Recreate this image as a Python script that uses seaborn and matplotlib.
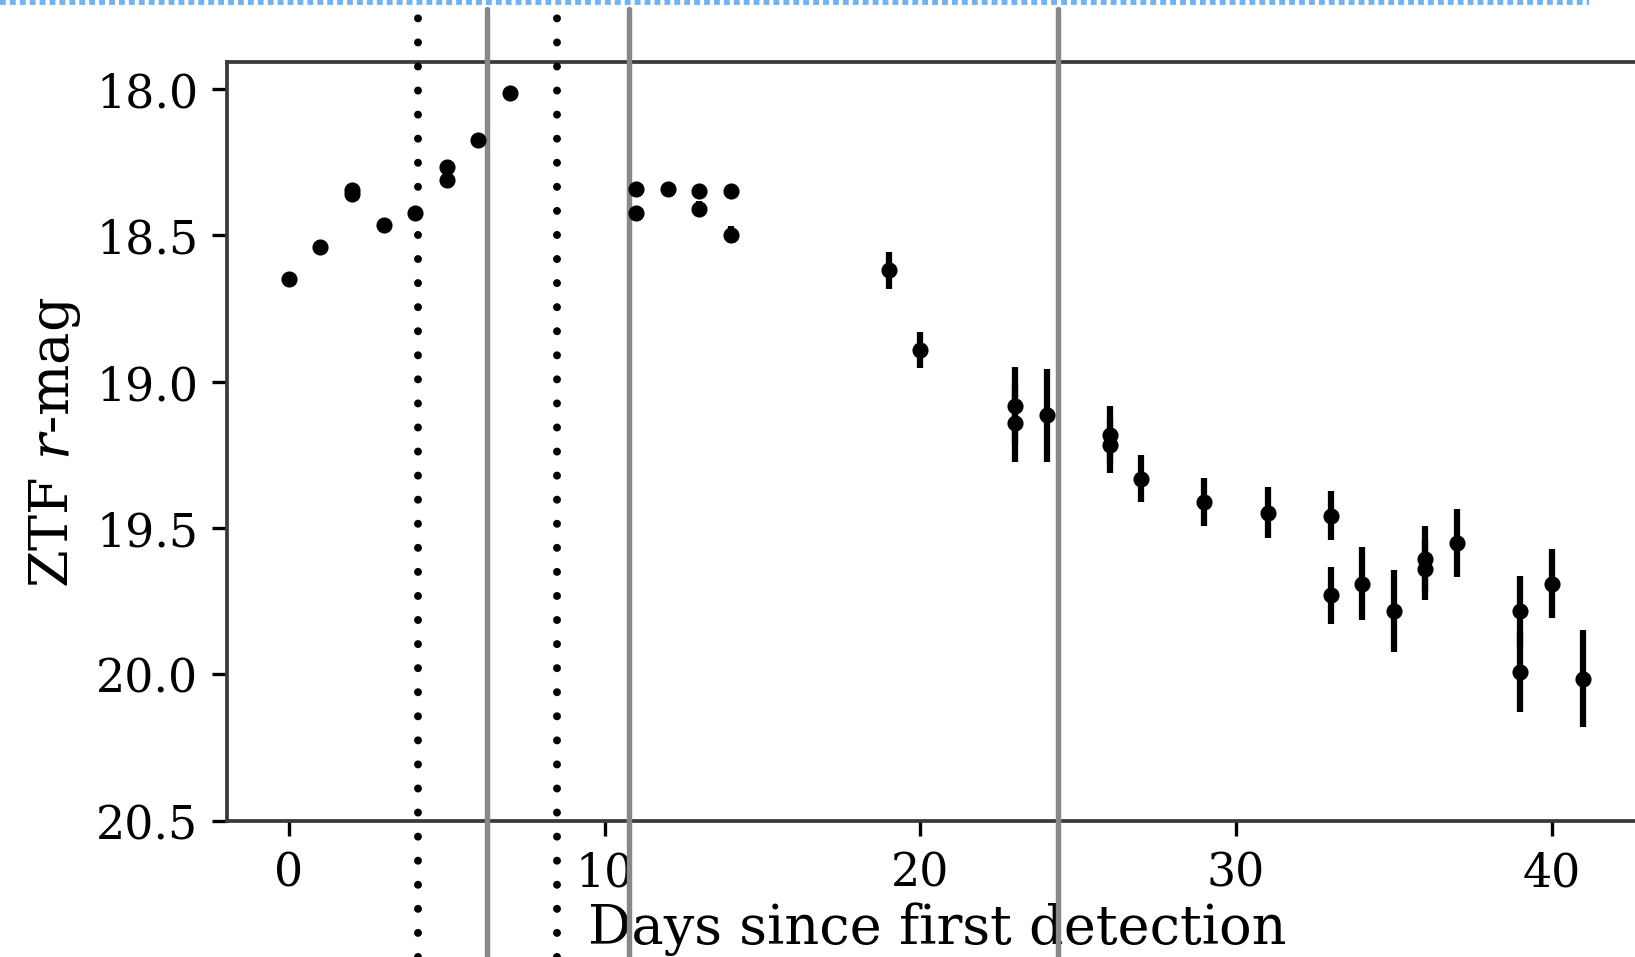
import matplotlib
matplotlib.use("Agg")
import matplotlib.pyplot as plt
import matplotlib.transforms as mtransforms
from matplotlib.lines import Line2D
import seaborn as sns
import pandas as pd

# ---- data ----
days = [0, 1, 2, 2, 3, 4, 5, 5, 6, 7, 11, 11, 12, 13, 13, 14, 14, 19, 20, 23, 23, 24,
        26, 26, 27, 29, 31, 33, 33, 34, 35, 36, 36, 37, 39, 39, 40, 41]
mags = [18.65, 18.54, 18.345, 18.358, 18.467, 18.425, 18.268, 18.31, 18.175, 18.015,
        18.342, 18.425, 18.342, 18.35, 18.41, 18.35, 18.498, 18.62, 18.893, 19.082,
        19.141, 19.116, 19.182, 19.218, 19.332, 19.41, 19.449, 19.458, 19.731, 19.691,
        19.784, 19.606, 19.642, 19.551, 19.784, 19.993, 19.691, 20.016]
errs = [0.012, 0.012, 0.012, 0.012, 0.012, 0.015, 0.012, 0.012, 0.015, 0.015,
        0.02, 0.02, 0.018, 0.02, 0.025, 0.022, 0.028, 0.064, 0.061, 0.13,
        0.135, 0.16, 0.10, 0.094, 0.08, 0.082, 0.087, 0.084, 0.098, 0.124,
        0.139, 0.114, 0.104, 0.117, 0.12, 0.136, 0.118, 0.166]
dotted_epochs = [4.09, 8.5]
solid_epochs = [6.27, 10.76, 24.36]
xticks = [0, 10, 20, 30, 40]
yticks = [18.0, 18.5, 19.0, 19.5, 20.0, 20.5]
ytick_labels = ["18.0", "18.5", "19.0", "19.5", "20.0", "20.5"]

df = pd.DataFrame({"day": days, "mag": mags, "err": errs})

sns.set_style("ticks")
plt.rcParams["font.family"] = ["DejaVu Serif"]
plt.rcParams["mathtext.fontset"] = "dejavuserif"
plt.rcParams["font.size"] = 11
plt.rcParams["text.color"] = "black"
plt.rcParams["axes.labelcolor"] = "black"

fig = plt.figure(figsize=(5.45, 3.1933), dpi=300)
ax = fig.add_axes([0.139, 0.1424, 0.868, 0.7923])

ax.errorbar(df["day"], df["mag"], yerr=df["err"], fmt="none", ecolor="black",
            elinewidth=1.5, zorder=4)
sns.scatterplot(data=df, x="day", y="mag", color="black", s=12, edgecolor="black",
                linewidth=0.4, ax=ax, zorder=5, legend=False)

ax.set_xlim(-1.95, 43)
ax.set_ylim(20.5, 17.907)
ax.set_xticks(xticks)
ax.set_xticklabels([str(t) for t in xticks])
ax.set_yticks(yticks)
ax.set_yticklabels(ytick_labels)
ax.tick_params(labelsize=11, length=3.5, width=0.8, colors="black")
ax.set_xlabel("Days since first detection", fontsize=13, labelpad=1.5, color="black")
ax.set_ylabel("ZTF $r$-mag", fontsize=13, labelpad=3, color="black")
for s in ax.spines.values():
    s.set_color("#3a3a3a")
    s.set_linewidth(0.9)

trans = mtransforms.blended_transform_factory(ax.transData, fig.transFigure)
for x in solid_epochs:
    ax.plot([x, x], [0.0, 0.9896], transform=trans, color="#86888c", lw=1.3,
            clip_on=False, zorder=3)
for x in dotted_epochs:
    ax.plot([x, x], [0.0, 0.9896], transform=trans, color="black", lw=1.9,
            linestyle=(0, (0.01, 3.03)), dash_capstyle="round", clip_on=False, zorder=3)

fig.add_artist(Line2D([0.0, 0.972], [0.9965, 0.9965], transform=fig.transFigure,
                      color="#6fb3f2", lw=1.4, linestyle=(0, (1.0, 0.7))))

fig.savefig("out.png", dpi=300)
